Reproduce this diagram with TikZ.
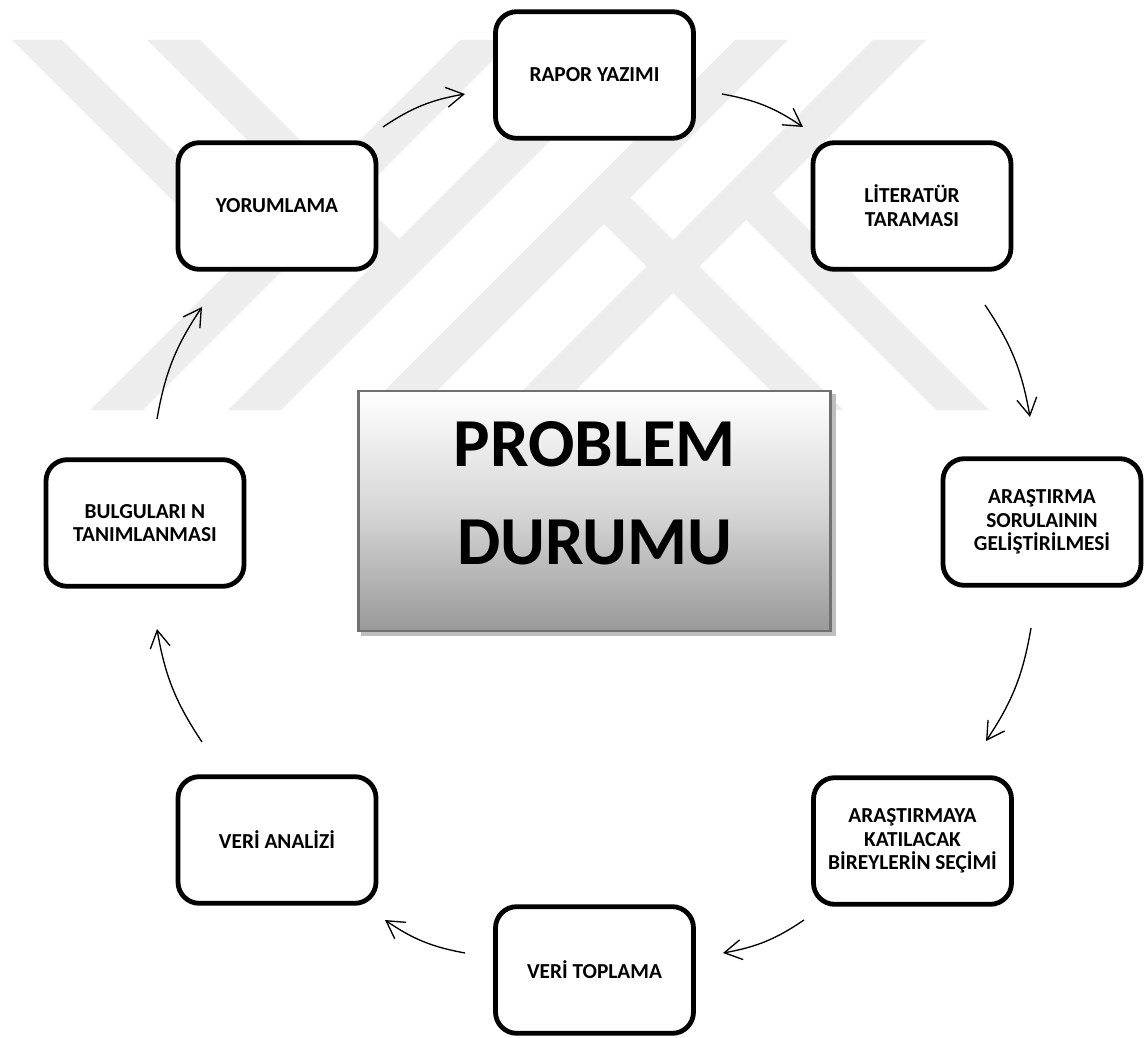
\documentclass[tikz,border=0pt]{standalone}
\usepackage{fontspec}
\setmainfont{Carlito}
\usetikzlibrary{arrows.meta}

\definecolor{wmgray}{RGB}{237,237,237}
\definecolor{frameg}{RGB}{112,112,112}
\definecolor{shadowg}{RGB}{190,190,190}

\begin{document}
\begin{tikzpicture}[x=0.75pt,y=-0.75pt,
  stepbox/.style={draw=black, line width=3.6pt, rounded corners=16pt, fill=white,
    minimum width=148.5pt, minimum height=95pt, inner sep=2pt, align=center,
    font=\bfseries\fontsize{16}{17.8}\selectfont},
  flow/.style={line width=1pt, bend left=12,
    -{Straight Barb[length=13pt,width=15pt,line width=1pt]}},
  band/.style={fill=wmgray, draw=none},
  centerbox/.style={draw=frameg, line width=2pt, minimum width=354pt, minimum height=180pt,
    top color=white, bottom color=black!40, middle color=black!16},
  centershadow/.style={fill=shadowg, draw=none, minimum width=356pt, minimum height=182pt}]

\useasboundingbox (0,0) rectangle (1146,1038);
\fill[white] (0,0) rectangle (1146,1038);

% ---- background emblem: diagonal bands ----
% rising bands
\fill[band] (90,410) -- (143,410) -- (513,40) -- (460,40) -- cycle;
\fill[band] (228,410) -- (281,410) -- (651,40) -- (598,40) -- cycle;
\fill[band] (365,410) -- (418,410) -- (788,40) -- (735,40) -- cycle;
\fill[band] (503,410) -- (556,410) -- (926,40) -- (873,40) -- cycle;
% falling arms joining the left rising bands
\fill[band] (12,40) -- (62,40) -- (274,252) -- (249,277) -- cycle;
\fill[band] (147,40) -- (200,40) -- (412,252) -- (386,279) -- cycle;
% falling branches leaving the right rising bands
\fill[band] (591,211) -- (617,184) -- (843,410) -- (790,410) -- cycle;
\fill[band] (733,207) -- (759,180) -- (989,410) -- (936,410) -- cycle;

% ---- central box ----
\node[centershadow] (probshadow) at (598.5,515) {};
\node[centerbox] (prob) at (594.5,511) {};
\node[align=center, font=\bfseries\fontsize{51.5}{73.5}\selectfont] (probtext) at (594.5,493)
  {PROBLEM\\DURUMU};

% ---- cycle steps ----
\node[stepbox] (rapor)   at (594.5,75)  {RAPOR YAZIMI};
\node[stepbox] (lit)     at (912,206)   {LİTERATÜR\\TARAMASI};
\node[stepbox] (soru)    at (1042,522)  {ARAŞTIRMA\\SORULAININ\\GELİŞTİRİLMESİ};
\node[stepbox] (birey)   at (912.5,841) {ARAŞTIRMAYA\\KATILACAK\\BİREYLERİN SEÇİMİ};
\node[stepbox] (toplama) at (594.5,970) {VERİ TOPLAMA};
\node[stepbox] (analiz)  at (277,840)   {VERİ ANALİZİ};
\node[stepbox] (bulgu)   at (145,523)   {BULGULARI N\\TANIMLANMASI};
\node[stepbox] (yorum)   at (277,206)   {YORUMLAMA};

% ---- arrow ends between the steps ----
\coordinate (yr1) at (383,127);  \coordinate (yr2) at (465,94);
\coordinate (rl1) at (722,94);   \coordinate (rl2) at (803,127);
\coordinate (ls1) at (985,305);  \coordinate (ls2) at (1030,417);
\coordinate (sb1) at (1031,628); \coordinate (sb2) at (986,741);
\coordinate (bt1) at (804,920);  \coordinate (bt2) at (723,953);
\coordinate (ta1) at (465,953);  \coordinate (ta2) at (385,920);
\coordinate (ab1) at (202,742);  \coordinate (ab2) at (157,629);
\coordinate (by1) at (157,419);  \coordinate (by2) at (202,307);

\draw[flow] (yr1) to (yr2);
\draw[flow] (rl1) to (rl2);
\draw[flow] (ls1) to (ls2);
\draw[flow] (sb1) to (sb2);
\draw[flow] (bt1) to (bt2);
\draw[flow] (ta1) to (ta2);
\draw[flow] (ab1) to (ab2);
\draw[flow] (by1) to (by2);

\end{tikzpicture}
\end{document}
